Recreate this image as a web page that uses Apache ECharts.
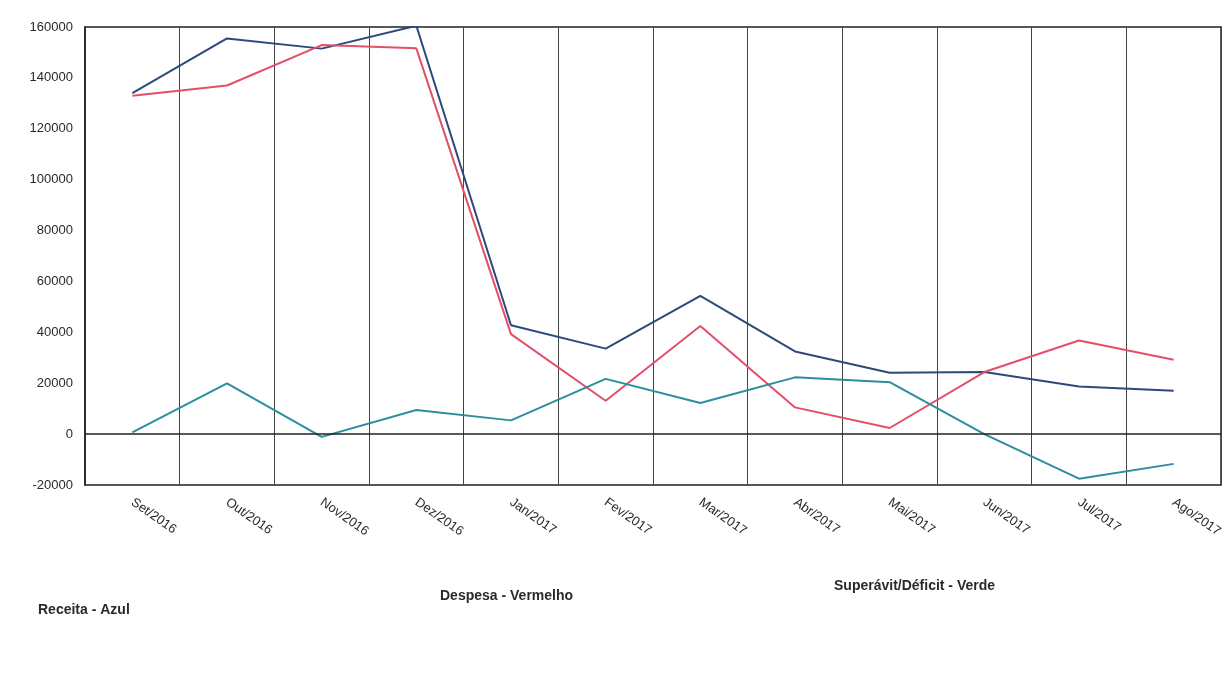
<!DOCTYPE html>
<html>
<head>
<meta charset="utf-8">
<script src="https://cdn.jsdelivr.net/npm/echarts@6/dist/echarts.min.js"></script>
<style>
html,body{margin:0;padding:0;background:#fff;}
#c{width:1231px;height:675px;}
</style>
</head>
<body>
<div id="c"></div>
<script>
var categories = ['Set/2016','Out/2016','Nov/2016','Dez/2016','Jan/2017','Fev/2017','Mar/2017','Abr/2017','Mai/2017','Jun/2017','Jul/2017','Ago/2017'];
var receita = [134000,155500,151500,160500,42800,33600,54300,32500,24100,24400,18700,17000];
var despesa = [133000,137000,152900,151600,39300,13100,42500,10500,2400,24400,36800,29200];
var saldo   = [700,19900,-1100,9500,5400,21700,12200,22300,20400,0,-17500,-11700];
var yTicks = {min:-20000, max:160000, interval:20000};

var chart = echarts.init(document.getElementById('c'));
var font = 'Liberation Sans, Arial, sans-serif';
function line(name, data, color){
  return {name:name, type:'line', data:data, symbol:'none', smooth:false,
    lineStyle:{color:color, width:2}, itemStyle:{color:color}};
}
var s1 = line('Receita', receita, '#2b4a7a');
var s2 = line('Despesa', despesa, '#e24f69');
var s3 = line('Superávit/Déficit', saldo, '#2b8e9c');
s1.markLine = {silent:true, symbol:['none','none'], label:{show:false},
  lineStyle:{color:'#222', width:1.5, type:'solid'}, data:[{yAxis:0}]};

chart.setOption({
  animation:false,
  backgroundColor:'#fff',
  grid:{left:85, right:10, top:27, bottom:190, show:true, borderColor:'#222', borderWidth:1.5, containLabel:false},
  xAxis:{type:'category', data:categories, boundaryGap:true,
    axisLine:{show:false}, axisTick:{show:false},
    splitLine:{show:true, lineStyle:{color:'#444', width:1}},
    axisLabel:{rotate:-35, color:'#2a2a2a', fontSize:13, fontFamily:font, margin:16, interval:0}},
  yAxis:{type:'value', min:yTicks.min, max:yTicks.max, interval:yTicks.interval,
    axisLine:{show:true, lineStyle:{color:'#222', width:1.5}}, axisTick:{show:false},
    splitLine:{show:false},
    axisLabel:{color:'#2a2a2a', fontSize:13, fontFamily:font, margin:12,
      formatter:function(v){return String(v);}}},
  series:[s1, s2, s3],
  graphic:[
    {type:'text', left:38, top:603, style:{text:'Receita - Azul', fill:'#2a2a2a', font:'bold 14px '+font}},
    {type:'text', left:440, top:589, style:{text:'Despesa - Vermelho', fill:'#2a2a2a', font:'bold 14px '+font}},
    {type:'text', left:834, top:579, style:{text:'Superávit/Déficit - Verde', fill:'#2a2a2a', font:'bold 14px '+font}}
  ]
});
</script>
</body>
</html>
